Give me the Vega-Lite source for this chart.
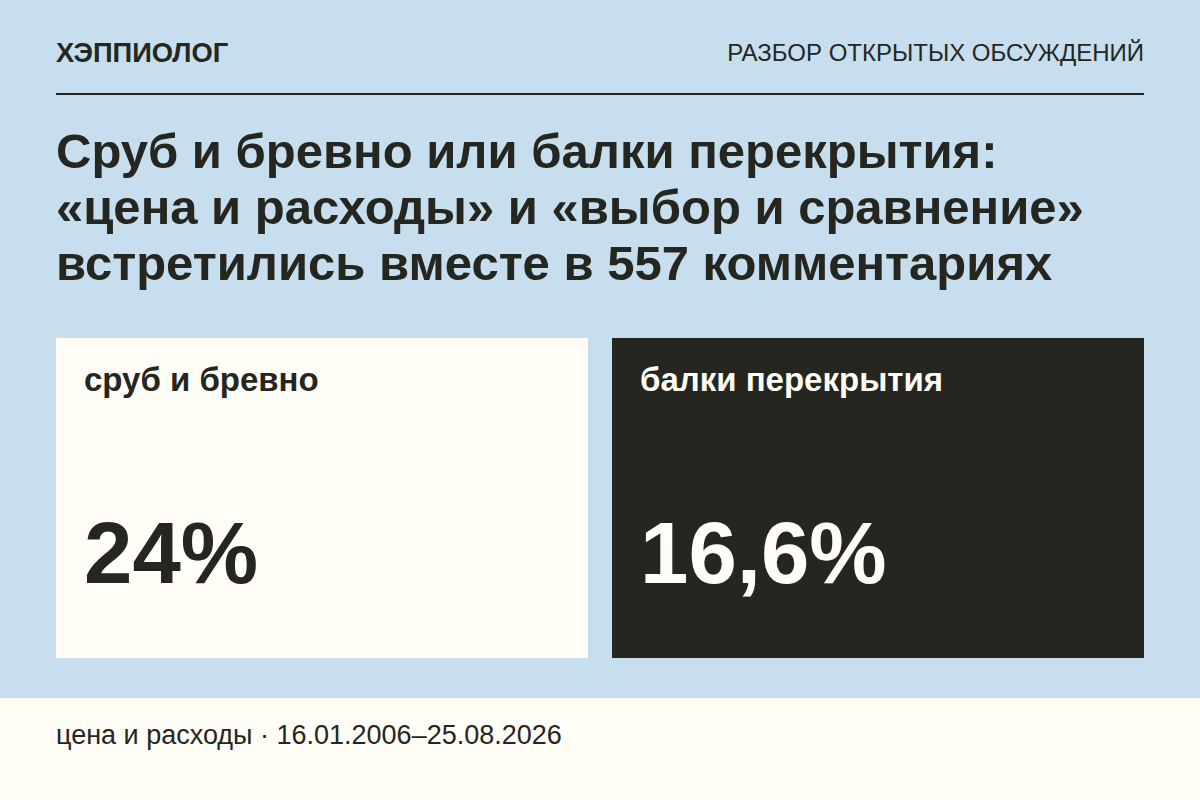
{
  "$schema": "https://vega.github.io/schema/vega-lite/v6.json",
  "description": "Карточка: доля комментариев по двум темам",
  "width": 1200,
  "height": 800,
  "padding": 0,
  "autosize": {"type": "none"},
  "background": "#c6deed",
  "config": {"view": {"stroke": null}, "text": {"font": "Liberation Sans", "baseline": "alphabetic", "align": "left"}},
  "datasets": {
    "panels": [
      {"panel": "сруб и бревно", "share": 24, "label": "24%", "block": "панели"},
      {"panel": "балки перекрытия", "share": 16.6, "label": "16,6%", "block": "панели"}
    ]
  },
  "resolve": {"scale": {"x": "independent", "y": "independent", "color": "independent"}},
  "layer": [
    {
      "data": {"values": [{"band": "подвал"}]},
      "mark": {"type": "rect", "fill": "#fffdf6"},
      "encoding": {
        "x": {"field": "band", "type": "nominal", "axis": null, "scale": {"type": "band", "range": [0, 1200], "padding": 0}},
        "y": {"field": "band", "type": "nominal", "axis": null, "scale": {"type": "band", "range": [698, 800], "padding": 0}}
      }
    },
    {
      "data": {"values": [{"band": "линия"}]},
      "mark": {"type": "rect", "fill": "#24261f"},
      "encoding": {
        "x": {"field": "band", "type": "nominal", "axis": null, "scale": {"type": "band", "range": [56, 1144], "padding": 0}},
        "y": {"field": "band", "type": "nominal", "axis": null, "scale": {"type": "band", "range": [93, 95], "padding": 0}}
      }
    },
    {
      "data": {"name": "panels"},
      "mark": {"type": "rect"},
      "encoding": {
        "x": {"field": "panel", "type": "nominal", "axis": null, "sort": null, "scale": {"type": "band", "range": [56, 1144], "paddingInner": 0.04317, "paddingOuter": 0}},
        "y": {"field": "block", "type": "nominal", "axis": null, "scale": {"type": "band", "range": [338, 658], "padding": 0}},
        "color": {"field": "panel", "type": "nominal", "legend": null, "scale": {"domain": ["сруб и бревно", "балки перекрытия"], "range": ["#fffdf6", "#24261f"]}}
      }
    },
    {
      "data": {"name": "panels"},
      "mark": {"type": "text", "fontSize": 33, "fontWeight": "bold"},
      "encoding": {
        "x": {"field": "panel", "type": "nominal", "axis": null, "sort": null, "scale": {"type": "point", "range": [84, 640], "padding": 0}},
        "y": {"field": "block", "type": "nominal", "axis": null, "scale": {"type": "point", "range": [391, 391], "padding": 0}},
        "text": {"field": "panel"},
        "color": {"field": "panel", "type": "nominal", "legend": null, "scale": {"domain": ["сруб и бревно", "балки перекрытия"], "range": ["#24261f", "#fffdf6"]}}
      }
    },
    {
      "data": {"name": "panels"},
      "mark": {"type": "text", "fontSize": 87, "fontWeight": "bold"},
      "encoding": {
        "x": {"field": "panel", "type": "nominal", "axis": null, "sort": null, "scale": {"type": "point", "range": [84, 640], "padding": 0}},
        "y": {"field": "block", "type": "nominal", "axis": null, "scale": {"type": "point", "range": [583, 583], "padding": 0}},
        "text": {"field": "label"},
        "color": {"field": "panel", "type": "nominal", "legend": null, "scale": {"domain": ["сруб и бревно", "балки перекрытия"], "range": ["#24261f", "#fffdf6"]}}
      }
    },
    {
      "data": {"values": [{"line": "ХЭППИОЛОГ", "place": "шапка"}]},
      "mark": {"type": "text", "fontSize": 27.3, "fontWeight": "bold", "fill": "#24261f"},
      "encoding": {
        "x": {"field": "place", "type": "nominal", "axis": null, "scale": {"type": "point", "range": [56, 56], "padding": 0}},
        "y": {"field": "place", "type": "nominal", "axis": null, "scale": {"type": "point", "range": [62, 62], "padding": 0}},
        "text": {"field": "line"}
      }
    },
    {
      "data": {"values": [{"line": "РАЗБОР ОТКРЫТЫХ ОБСУЖДЕНИЙ", "place": "шапка"}]},
      "mark": {"type": "text", "fontSize": 24, "align": "right", "fill": "#24261f"},
      "encoding": {
        "x": {"field": "place", "type": "nominal", "axis": null, "scale": {"type": "point", "range": [1144, 1144], "padding": 0}},
        "y": {"field": "place", "type": "nominal", "axis": null, "scale": {"type": "point", "range": [61, 61], "padding": 0}},
        "text": {"field": "line"}
      }
    },
    {
      "data": {"values": [
        {"line": "Сруб и бревно или балки перекрытия:", "place": "заголовок"},
        {"line": "«цена и расходы» и «выбор и сравнение»", "place": "заголовок"},
        {"line": "встретились вместе в 557 комментариях", "place": "заголовок"}
      ]},
      "mark": {"type": "text", "fontSize": 49, "fontWeight": "bold", "fill": "#24261f"},
      "encoding": {
        "x": {"field": "place", "type": "nominal", "axis": null, "scale": {"type": "point", "range": [56, 56], "padding": 0}},
        "y": {"field": "line", "type": "nominal", "axis": null, "sort": null, "scale": {"type": "point", "range": [168, 280], "padding": 0}},
        "text": {"field": "line"}
      }
    },
    {
      "data": {"values": [{"line": "цена и расходы · 16.01.2006–25.08.2026", "place": "подвал"}]},
      "mark": {"type": "text", "fontSize": 27, "fill": "#24261f"},
      "encoding": {
        "x": {"field": "place", "type": "nominal", "axis": null, "scale": {"type": "point", "range": [56, 56], "padding": 0}},
        "y": {"field": "place", "type": "nominal", "axis": null, "scale": {"type": "point", "range": [744, 744], "padding": 0}},
        "text": {"field": "line"}
      }
    }
  ]
}
